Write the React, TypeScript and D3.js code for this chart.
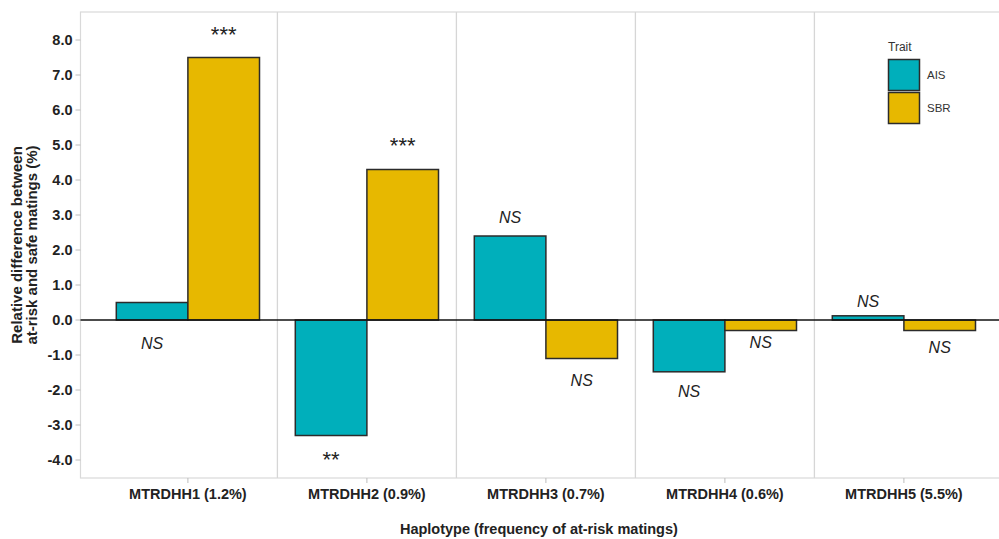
import React from "react";
import * as d3 from "d3";

const categories = ["MTRDHH1 (1.2%)", "MTRDHH2 (0.9%)", "MTRDHH3 (0.7%)", "MTRDHH4 (0.6%)", "MTRDHH5 (5.5%)"];
const traits = ["AIS", "SBR"];
const aisValues = [0.5, -3.3, 2.4, -1.48, 0.12];
const sbrValues = [7.5, 4.3, -1.1, -0.3, -0.3];
const aisLabels = ["NS", "**", "NS", "NS", "NS"];
const sbrLabels = ["***", "***", "NS", "NS", "NS"];
const aisLabelPos = [-0.66, -3.8, 2.94, -2.03, 0.54];
const sbrLabelPos = [8.34, 5.15, -1.71, -0.63, -0.77];
const yTicks = [-4, -3, -2, -1, 0, 1, 2, 3, 4, 5, 6, 7, 8];
const colors = ["#00AFBB", "#E7B800"];

const W = 999;
const H = 539;
const left = 80.5;
const top = 12;
const bottom = 478;
const step = 179;
const right = left + 5.2 * step;
const font = "'Liberation Sans', Arial, sans-serif";

export default function App() {
  const x = d3.scaleBand<string>().domain(categories).range([left, right]).paddingInner(0).paddingOuter(0.1);
  const inner = d3.scaleBand<string>().domain(traits).range([0.1 * x.bandwidth(), 0.9 * x.bandwidth()]).padding(0);
  const y = d3.scaleLinear().domain([-4.514, 8.8]).range([bottom, top]);
  const series = [aisValues, sbrValues];
  const labels = [aisLabels, sbrLabels];
  const labelPos = [aisLabelPos, sbrLabelPos];
  const panelRight = Math.min(right, W + 2);

  return (
    <svg width={W} height={H} style={{ position: "absolute", left: 0, top: 0, background: "#fff" }} fontFamily={font}>
      <rect x={left} y={top} width={panelRight - left} height={bottom - top} fill="#fff" stroke="#d9d9d9" strokeWidth={1.2} />
      {categories.slice(1).map((c) => (
        <line key={c} x1={x(c)} x2={x(c)} y1={top} y2={bottom} stroke="#d6d6d6" strokeWidth={1.3} />
      ))}
      {yTicks.map((t) => (
        <g key={t}>
          <line x1={left - 5} x2={left} y1={y(t)} y2={y(t)} stroke="#bdbdbd" strokeWidth={1} />
          <text x={left - 8} y={y(t)} dy="0.36em" textAnchor="end" fontSize={14.5} fontWeight="bold" fill="#222">
            {t.toFixed(1)}
          </text>
        </g>
      ))}
      {categories.map((c) => (
        <g key={c}>
          <line x1={x(c)! + x.bandwidth() / 2} x2={x(c)! + x.bandwidth() / 2} y1={bottom} y2={bottom + 5} stroke="#bdbdbd" />
          <text x={x(c)! + x.bandwidth() / 2} y={499} textAnchor="middle" fontSize={14.5} fontWeight="bold" fill="#222">
            {c}
          </text>
        </g>
      ))}
      {series.map((vals, si) =>
        vals.map((v, i) => {
          const bx = x(categories[i])! + inner(traits[si])!;
          return (
            <rect
              key={`${si}-${i}`}
              x={bx}
              y={y(Math.max(0, v))}
              width={inner.bandwidth()}
              height={Math.abs(y(v) - y(0))}
              fill={colors[si]}
              stroke="#2b2b2b"
              strokeWidth={1.5}
            />
          );
        })
      )}
      <line x1={left} x2={panelRight} y1={y(0)} y2={y(0)} stroke="#111" strokeWidth={1.4} />
      {labels.map((ls, si) =>
        ls.map((l, i) => {
          const cx = x(categories[i])! + inner(traits[si])! + inner.bandwidth() / 2;
          const isStar = l.includes("*");
          return (
            <text
              key={`l${si}-${i}`}
              x={cx}
              y={y(labelPos[si][i])}
              dy={isStar ? "0.62em" : "0.36em"}
              textAnchor="middle"
              fontSize={isStar ? 22 : 16}
              fontStyle={isStar ? "normal" : "italic"}
              fill="#222"
            >
              {l}
            </text>
          );
        })
      )}
      <text
        transform={`translate(22,${(top + bottom) / 2}) rotate(-90)`}
        textAnchor="middle"
        fontSize={15}
        fontWeight="bold"
        fill="#222"
      >
        <tspan x={0} dy={0}>Relative difference between</tspan>
        <tspan x={0} dy={15}>at-risk and safe matings (%)</tspan>
      </text>
      <text x={(left + right) / 2 - 7} y={534} textAnchor="middle" fontSize={14.5} fontWeight="bold" fill="#222">
        Haplotype (frequency of at-risk matings)
      </text>
      <text x={888} y={51} fontSize={12} fill="#333">Trait</text>
      {traits.map((t, i) => (
        <g key={t}>
          <rect x={888.5} y={59.5 + i * 33} width={31} height={31} fill={colors[i]} stroke="#2b2b2b" strokeWidth={1.5} />
          <text x={927} y={75 + i * 33} dy="0.36em" fontSize={11.5} fill="#333">{t}</text>
        </g>
      ))}
    </svg>
  );
}
